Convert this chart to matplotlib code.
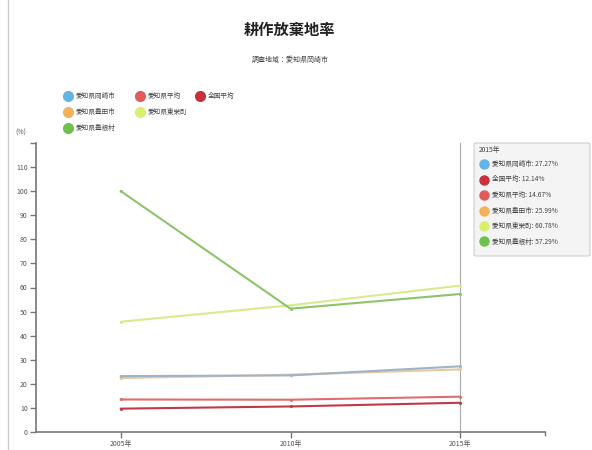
import matplotlib
matplotlib.use("Agg")
import matplotlib.pyplot as plt
from matplotlib.patches import FancyBboxPatch
from matplotlib.lines import Line2D

plt.rcParams['font.family'] = ['Noto Sans CJK JP', 'DejaVu Sans']

years = ["2005年", "2010年", "2015年"]
series_names = ["愛知県岡崎市", "全国平均", "愛知県平均", "愛知県豊田市", "愛知県東栄町", "愛知県豊根村"]
okazaki = [23.2, 23.5, 27.27]
zenkoku = [9.7, 10.6, 12.14]
aichi = [13.5, 13.4, 14.67]
toyota = [22.4, 23.8, 25.99]
toei = [45.8, 52.6, 60.78]
toyone = [100.0, 51.2, 57.29]
series_values = [okazaki, zenkoku, aichi, toyota, toei, toyone]
line_colors = ["#9fb3c8", "#c0394a", "#e06c6c", "#e8c9a0", "#d7eb8c", "#8cc46a"]
icon_colors = ["#62b4e6", "#c8303c", "#e25a5a", "#f2b25a", "#d9ee6a", "#6cc24a"]
yticks = list(range(0, 111, 10))

fig = plt.figure(figsize=(5.92, 4.5), dpi=100)
ax = fig.add_axes([36/592, 18/450, (545-36)/592, (432-143)/450])

x = list(range(len(years)))
order = [3, 0, 4, 5, 2, 1]
for i in order:
    ax.plot(x, series_values[i], color=line_colors[i], lw=1.5, marker='o', ms=2.2,
            markerfacecolor=line_colors[i], markeredgewidth=0, zorder=3)

ax.set_xlim(-0.5, 2.5)
ax.set_ylim(0, 120)
ax.set_xticks(x)
ax.set_xticklabels(years, fontsize=5, color="#555555")
ax.set_yticks(yticks + [120])
ax.set_yticklabels([str(v) for v in yticks] + [""], fontsize=5, color="#555555")
for s in ["top", "right"]:
    ax.spines[s].set_visible(False)
for s in ["left", "bottom"]:
    ax.spines[s].set_color("#777777")
    ax.spines[s].set_linewidth(1.2)
ax.tick_params(axis='both', colors="#777777", length=4, width=1, labelcolor="#555555", pad=2)
ax.text(-0.56, 122.5, "(%)", fontsize=5, color="#555555", ha='right', va='bottom')
# end tick on x-axis
ax.plot([2.5, 2.5], [0, -1.4], color="#777777", lw=1, clip_on=False)

# tooltip guide line
ax.axvline(2, color="#aaaaaa", lw=0.8, zorder=1)

# title and subtitle
fig.text(290/592, 1 - 30/450, "耕作放棄地率", ha='center', va='center', fontsize=11,
         fontweight='bold', color="#222222")
fig.text(290/592, 1 - 60/450, "調査地域：愛知県岡崎市", ha='center', va='center', fontsize=5,
         color="#444444")

# legend
legend_pos = [(68, 96), (140, 96), (200, 96), (68, 112), (140, 112), (68, 128)]
legend_order = [0, 2, 1, 3, 4, 5]
for (lx, ly), idx in zip(legend_pos, legend_order):
    fig.lines.append(Line2D([lx/592], [1 - ly/450], marker='o', ms=7, color=icon_colors[idx],
                            lw=0, transform=fig.transFigure))
    fig.text((lx + 8)/592, 1 - ly/450, series_names[idx], fontsize=4.8, color="#444444",
             va='center', ha='left')

# tooltip box
bx0, by0, bx1, by1 = 474, 143, 590, 256
box = FancyBboxPatch((bx0/592, 1 - by1/450), (bx1-bx0)/592, (by1-by0)/450,
                     boxstyle="round,pad=0,rounding_size=0.004", transform=fig.transFigure,
                     facecolor="#f4f4f4", edgecolor="#cccccc", lw=0.8, alpha=0.95, zorder=5)
fig.patches.append(box)
fig.text((bx0 + 5)/592, 1 - 150/450, "2015年", fontsize=4.8, color="#444444", va='center',
         zorder=6)
for k in range(len(series_names)):
    ty = 164 + k * 15.5
    fig.lines.append(Line2D([(bx0 + 10)/592], [1 - ty/450], marker='o', ms=6.5,
                            color=icon_colors[k], lw=0, transform=fig.transFigure, zorder=6))
    fig.text((bx0 + 18)/592, 1 - ty/450, f"{series_names[k]}: {series_values[k][2]:.2f}%",
             fontsize=4.8, color="#444444", va='center', zorder=6)

# left frame line
fig.lines.append(Line2D([8/592, 8/592], [0, 1], color="#cccccc", lw=1, transform=fig.transFigure))

fig.savefig("out.png", dpi=100)
